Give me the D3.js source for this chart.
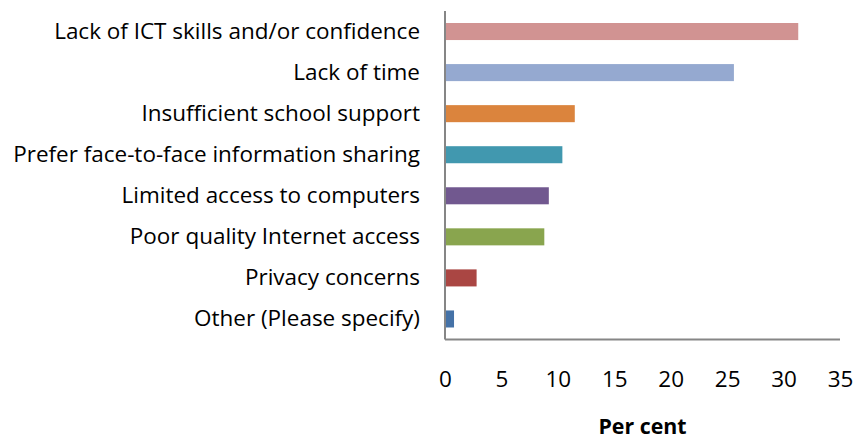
<!DOCTYPE html>
<html lang='en'>
    <head>
        <meta charset="utf-8">
        <script src="https://d3js.org/d3.v7.min.js"></script>
        <style>
            body{
                margin:0px;
                padding:0px;
                background-color:white;
            }
            svg{
                display:block;
                font-family:"Open Sans", sans-serif;
            }
        </style>
    </head>
    <body>
        <svg id="chart" width="854" height="441"></svg>
        <script>
            // barriers, top to bottom
            const categories=[
                'Lack of ICT skills and/or confidence',
                'Lack of time',
                'Insufficient school support',
                'Prefer face-to-face information sharing',
                'Limited access to computers',
                'Poor quality Internet access',
                'Privacy concerns',
                'Other (Please specify)'
            ];
            const values=[31.3,25.6,11.5,10.4,9.2,8.8,2.8,0.8];
            const barColors=['#d19392','#95a9d0','#db843d','#4198af','#71588f','#89a54e','#aa4643','#4572a7'];
            const xTicks=[0,5,10,15,20,25,30,35];
            const xTitle='Per cent';

            const width=854, height=441;
            const margin={top:11,right:14,bottom:101.5,left:445};
            const font='"Open Sans", sans-serif';

            const svg=d3.select('#chart');

            // pick a font size so the longest label is as wide as in the original (~407px)
            const probe=svg.append('text').attr('font-family',font).attr('font-size',20)
                           .text(categories[3]);
            const fontSize=20*407/probe.node().getComputedTextLength();
            probe.remove();

            const xScale=d3.scaleLinear()
                           .domain([0,35])
                           .range([margin.left,width-margin.right]);
            const yScale=d3.scaleBand()
                           .domain(categories)
                           .range([margin.top,height-margin.bottom])
                           .paddingInner(0.585)
                           .paddingOuter(0.2925);

            svg.selectAll('rect.bar')
               .data(values)
               .enter()
               .append('rect')
               .attr('class','bar')
               .attr('x',xScale(0))
               .attr('y',(d,i)=>yScale(categories[i]))
               .attr('width',d=>xScale(d)-xScale(0))
               .attr('height',yScale.bandwidth())
               .attr('fill',(d,i)=>barColors[i]);

            // category labels (y axis without ticks)
            const yAxis=d3.axisLeft(yScale).tickSize(0).tickPadding(25);
            const yg=svg.append('g')
               .attr('transform','translate('+xScale(0)+',0)')
               .call(yAxis);
            yg.select('.domain').remove();
            yg.selectAll('text')
              .attr('font-family',font)
              .attr('font-size',fontSize)
              .attr('fill','#000');

            // x axis labels
            const xAxis=d3.axisBottom(xScale).tickValues(xTicks).tickSize(0).tickPadding(32);
            const xg=svg.append('g')
               .attr('transform','translate(0,'+(height-margin.bottom)+')')
               .call(xAxis);
            xg.select('.domain').remove();
            xg.selectAll('text')
              .attr('font-family',font)
              .attr('font-size',fontSize)
              .attr('fill','#000');

            // axis lines
            svg.append('line')
               .attr('x1',xScale(0)).attr('x2',xScale(0))
               .attr('y1',margin.top).attr('y2',height-margin.bottom)
               .attr('stroke','#868686').attr('stroke-width',2);
            svg.append('line')
               .attr('x1',xScale(0)).attr('x2',xScale(35))
               .attr('y1',height-margin.bottom).attr('y2',height-margin.bottom)
               .attr('stroke','#868686').attr('stroke-width',2);

            svg.append('text')
               .attr('x',(xScale(0)+xScale(35))/2)
               .attr('y',434)
               .attr('text-anchor','middle')
               .attr('font-family',font)
               .attr('font-size',fontSize*0.95)
               .attr('font-weight','bold')
               .text(xTitle);
        </script>
    </body>
</html>
